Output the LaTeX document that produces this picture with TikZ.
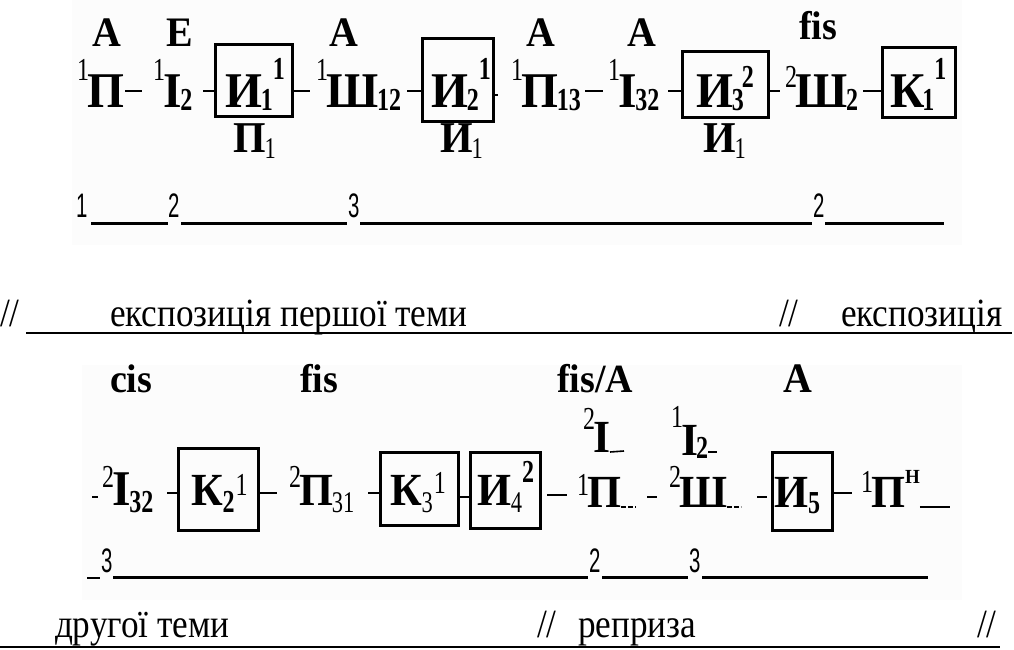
\documentclass[tikz,border=0pt]{standalone}
\usepackage{fontspec}
\usetikzlibrary{calc}
\newfontfamily\fbig[FakeStretch=0.95]{Liberation Serif}
\newfontfamily\fsup[FakeStretch=0.75]{Liberation Serif}
\newfontfamily\fsub[FakeStretch=0.75]{Liberation Serif}
\newfontfamily\fnum[FakeStretch=0.6]{Liberation Sans}
\newfontfamily\ftxt[FakeStretch=0.88]{Liberation Serif}
\tikzset{
 every node/.style={inner sep=0pt, outer sep=0pt},
 bigst/.style={anchor=base west, font=\fontsize{50}{50}\selectfont\fbig\bfseries},
 big2st/.style={anchor=base west, font=\fontsize{46}{46}\selectfont\fbig\bfseries},
 supst/.style={anchor=base east, font=\fontsize{32}{32}\selectfont\fsup},
 bsupst/.style={anchor=base west, font=\fontsize{32}{32}\selectfont\fsub\bfseries},
 subst/.style={anchor=base west, font=\fontsize{32}{32}\selectfont\fsub\bfseries},
 rsubst/.style={anchor=base west, font=\fontsize{30}{30}\selectfont\fsup},
 tonst/.style={anchor=base west, font=\fontsize{42}{42}\selectfont\fbig\bfseries},
 tonsmst/.style={anchor=base west, font=\fontsize{40}{40}\selectfont\fbig\bfseries},
 belst/.style={anchor=base west, font=\fontsize{44}{44}\selectfont\fbig\bfseries},
 numst/.style={anchor=base west, font=\fontsize{34}{34}\selectfont\fnum},
 txtst/.style={anchor=base west, font=\fontsize{40}{40}\selectfont\ftxt},
 boxst/.style={draw, line width=3pt},
 dashln/.style={line width=2.6pt},
 tinyln/.style={line width=1.6pt},
 rulest/.style={line width=3pt},
 ulst/.style={line width=1.4pt},
}
\begin{document}
\begin{tikzpicture}[x=1pt,y=-1pt]
\useasboundingbox (0,0) rectangle (1014,650);
\fill[black!1] (72,0) rectangle (962,245);
\fill[black!1] (82,365) rectangle (962,600);

% ---------- block 1: keys ----------
\node[tonst] (k1) at (92,47) {A};
\node[tonst] (k2) at (166,47) {E};
\node[tonst] (k3) at (329,47) {A};
\node[tonst] (k4) at (526,47) {A};
\node[tonst] (k5) at (627,47) {A};
\node[tonsmst] (k6) at (799,40) {fis};

% ---------- block 1: main row ----------
\node[bigst] (a1) at (87,108) {П};
\node[supst] (a1s) at ($(a1.base west)+(2,-27)$) {1};
\coordinate (d1a) at (125,91); \coordinate (d1b) at (142,91);
\draw[dashln] (d1a) -- (d1b);

\node[bigst] (a2) at (163,108) {I};
\node[supst] (a2s) at ($(a2.base west)+(2,-27)$) {1};
\node[subst] (a2u) at ($(a2.base east)+(-1,3)$) {2};

\node[boxst, minimum width=77pt, minimum height=72pt] (b1) at (253.5,81) {};
\node[bigst] (b1m) at (225,108) {И};
\node[subst] (b1u) at ($(b1m.base east)+(-1,3)$) {1};
\node[bsupst] (b1s) at ($(b1u.base east)+(0,-31)$) {1};
\coordinate (d2a) at (203,91);
\draw[dashln] (d2a) -- (d2a -| b1.west);
\coordinate (d3b) at (310,91);
\draw[dashln] (d3b -| b1.east) -- (d3b);

\node[bigst] (a3) at (326,108) {Ш};
\node[supst] (a3s) at ($(a3.base west)+(2,-27)$) {1};
\node[subst] (a3u) at ($(a3.base east)+(-1,3)$) {12};

\node[boxst, minimum width=71pt, minimum height=83pt] (b2) at (457.5,80.5) {};
\node[bigst] (b2m) at (431,108) {И};
\node[subst] (b2u) at ($(b2m.base east)+(-1,3)$) {2};
\node[bsupst] (b2s) at ($(b2u.base east)+(0,-31)$) {1};
\coordinate (d4a) at (407,91);
\draw[dashln] (d4a) -- (d4a -| b2.west);
\coordinate (d5b) at (498,95);
\draw[dashln] (d5b -| b2.east) -- (d5b);

\node[bigst] (a4) at (521,108) {П};
\node[supst] (a4s) at ($(a4.base west)+(2,-27)$) {1};
\node[subst] (a4u) at ($(a4.base east)+(-1,3)$) {13};
\coordinate (d6a) at (585,91); \coordinate (d6b) at (603,91);
\draw[dashln] (d6a) -- (d6b);

\node[bigst] (a5) at (618,108) {I};
\node[supst] (a5s) at ($(a5.base west)+(2,-27)$) {1};
\node[subst] (a5u) at ($(a5.base east)+(-1,3)$) {32};

\node[boxst, minimum width=86pt, minimum height=66pt] (b3) at (725,85) {};
\node[bigst] (b3m) at (696,108) {И};
\node[subst] (b3u) at ($(b3m.base east)+(-1,3)$) {3};
\node[bsupst] (b3s) at ($(b3u.base east)+(-2,-23)$) {2};
\coordinate (d7a) at (668,91);
\draw[dashln] (d7a) -- (d7a -| b3.west);
\coordinate (d8b) at (780,91);
\draw[dashln] (d8b -| b3.east) -- (d8b);

\node[bigst] (a6) at (795,108) {Ш};
\node[supst] (a6s) at ($(a6.base west)+(2,-20)$) {2};
\node[subst] (a6u) at ($(a6.base east)+(-1,3)$) {2};

\node[boxst, minimum width=73pt, minimum height=70pt] (b4) at (918.5,83) {};
\node[bigst] (b4m) at (890,108) {К};
\node[subst] (b4u) at ($(b4m.base east)+(-2,3)$) {1};
\node[bsupst] (b4s) at ($(b4u.base east)+(0,-31)$) {1};
\coordinate (d9a) at (863,91);
\draw[dashln] (d9a) -- (d9a -| b4.west);

% ---------- block 1: labels below ----------
\node[belst] (l1) at (233,153) {П};
\node[rsubst] (l1u) at ($(l1.base east)+(-1,5)$) {1};
\node[belst] (l2) at (440,153) {И};
\node[rsubst] (l2u) at ($(l2.base east)+(-1,5)$) {1};
\node[belst] (l3) at (703,153) {И};
\node[rsubst] (l3u) at ($(l3.base east)+(-1,5)$) {1};

% ---------- block 1: numbers ----------
\node[numst] (n1) at (76,217) {1};
\node[numst] (n2) at (168,217) {2};
\node[numst] (n3) at (348,217) {3};
\node[numst] (n4) at (813,217) {2};
\coordinate (n5) at (944,223);
\draw[rulest] ($(n1.base east)+(4,6)$) -- ($(n2.base west)+(0,6)$);
\draw[rulest] ($(n2.base east)+(2,6)$) -- ($(n3.base west)+(-1,6)$);
\draw[rulest] ($(n3.base east)+(1,6)$) -- ($(n4.base west)+(-1,6)$);
\draw[rulest] ($(n4.base east)+(1,6)$) -- (n5);

% ---------- text line 1 ----------
\node[txtst] (t1) at (0,326) {//};
\node[txtst] (t2) at (110,326) {експозиція першої теми};
\node[txtst] (t3) at (779,326) {//};
\node[txtst] (t4) at (841,326) {експозиція};
\coordinate (u1a) at (26,333); \coordinate (u1b) at (1012,333);
\draw[ulst] (u1a) -- (u1b);

% ---------- block 2: keys ----------
\node[tonsmst] (k7) at (110,392) {cis};
\node[tonsmst] (k8) at (300,392) {fis};
\node[tonsmst] (k9) at (557,392) {fis/A};
\node[tonst] (k10) at (783,392) {A};

% upper middle items
\node[big2st] (m1) at (593,452) {I};
\node[supst] (m1s) at ($(m1.base west)+(2,-23)$) {2};
\coordinate (m1e) at (624,451);
\draw[tinyln] (m1.base east) -- (m1e);
\node[big2st] (m2) at (681,455) {I};
\node[supst] (m2s) at ($(m2.base west)+(2,-28)$) {1};
\node[subst] (m2u) at ($(m2.base east)+(-2,3)$) {2};
\coordinate (m2e) at (717,452);
\draw[tinyln] (m2u.base east |- m2e) -- (m2e);

% ---------- block 2: main row ----------
\coordinate (e0a) at (92,497); \coordinate (e0b) at (98,497);
\draw[tinyln] (e0a) -- (e0b);
\node[bigst] (c1) at (112,505) {I};
\node[supst] (c1s) at ($(c1.base west)+(2,-18)$) {2};
\node[subst] (c1u) at ($(c1.base east)+(-1,7)$) {32};

\node[boxst, minimum width=80pt, minimum height=82pt] (b5) at (218,489) {};
\node[big2st] (b5m) at (191,505) {К};
\node[subst] (b5u) at ($(b5m.base east)+(0,7)$) {2};
\node[bsupst, font=\fontsize{32}{32}\selectfont\fsup] (b5s) at ($(b5u.base east)+(1,-17)$) {1};
\coordinate (e1a) at (167,493);
\draw[dashln] (e1a) -- (e1a -| b5.west);
\coordinate (e2b) at (277,493);
\draw[dashln] (e2b -| b5.east) -- (e2b);

\node[big2st] (c2) at (299,505) {П};
\node[supst] (c2s) at ($(c2.base west)+(2,-18)$) {2};
\node[rsubst] (c2u) at ($(c2.base east)+(-1,7)$) {31};

\node[boxst, minimum width=78pt, minimum height=73pt] (b6) at (419,488.5) {};
\node[big2st] (b6m) at (390,505) {К};
\node[rsubst] (b6u) at ($(b6m.base east)+(0,7)$) {3};
\node[bsupst, font=\fontsize{32}{32}\selectfont\fsup] (b6s) at ($(b6u.base east)+(1,-19)$) {1};
\coordinate (e3a) at (368,493);
\draw[dashln] (e3a) -- (e3a -| b6.west);

\node[boxst, minimum width=70pt, minimum height=76pt] (b7) at (505,490) {};
\node[big2st] (b7m) at (477,505) {И};
\node[rsubst] (b7u) at ($(b7m.base east)+(0,7)$) {4};
\node[bsupst] (b7s) at ($(b7u.base east)+(0,-30)$) {2};
\coordinate (e4) at (464,497);
\draw[dashln] (e4 -| b6.east) -- (e4 -| b7.west);

\coordinate (e5a) at (547,495); \coordinate (e5b) at (567,495);
\draw[dashln] (e5a) -- (e5b);
\node[big2st] (c3) at (587,507) {П};
\node[supst] (c3s) at ($(c3.base west)+(2,-12)$) {1};
\coordinate (c3e) at (636,507);
\draw[tinyln, dash pattern=on 5pt off 2pt] (c3.base east) -- (c3e);
\coordinate (e6a) at (647,497); \coordinate (e6b) at (657,497);
\draw[dashln] (e6a) -- (e6b);

\node[big2st] (c4) at (679,507) {Ш};
\node[supst] (c4s) at ($(c4.base west)+(2,-20)$) {2};
\coordinate (c4e) at (741,507);
\draw[tinyln, dash pattern=on 5pt off 2pt] (c4.base east) -- (c4e);
\coordinate (e7a) at (757,497); \coordinate (e7b) at (767,497);
\draw[dashln] (e7a) -- (e7b);

\node[boxst, minimum width=60pt, minimum height=78pt] (b8) at (802,491) {};
\node[big2st] (b8m) at (774,507) {И};
\node[subst] (b8u) at ($(b8m.base east)+(0,6)$) {5};
\coordinate (e8b) at (852,493);
\draw[dashln] (e8b -| b8.east) -- (e8b);

\node[big2st] (c5) at (871,507) {П};
\node[supst] (c5s) at ($(c5.base west)+(2,-15)$) {1};
\node[anchor=base west, font=\fontsize{20}{20}\selectfont\fbig\bfseries] (c5h) at ($(c5.base east)+(0,-24)$) {Н};
\coordinate (c5b) at (950,507);
\draw[tinyln] (c5h.east |- c5b) -- (c5b);

% ---------- block 2: numbers ----------
\coordinate (p0) at (87,578);
\node[numst] (p1) at (101,572) {3};
\node[numst] (p2) at (589,572) {2};
\node[numst] (p3) at (689,572) {3};
\coordinate (p4) at (928,577);
\draw[tinyln] (p0) -- ($(p1.base west)+(-1,6)$);
\draw[rulest] ($(p1.base east)+(1,5)$) -- ($(p2.base west)+(-1,5)$);
\draw[rulest] ($(p2.base east)+(2,5)$) -- ($(p3.base west)+(-1,5)$);
\draw[rulest] ($(p3.base east)+(2,5)$) -- (p4);

% ---------- text line 2 ----------
\node[txtst] (t5) at (55,637) {другої теми};
\node[txtst] (t6) at (537,637) {//};
\node[txtst] (t7) at (578,637) {реприза};
\node[txtst] (t8) at (977,637) {//};
\coordinate (u2a) at (0,647); \coordinate (u2b) at (1000,647);
\draw[ulst] (u2a) -- (u2b);
\end{tikzpicture}
\end{document}
